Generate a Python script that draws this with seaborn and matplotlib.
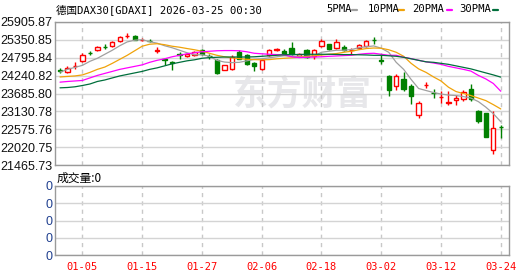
import numpy as np
import pandas as pd
import matplotlib
matplotlib.use("Agg")
import matplotlib.pyplot as plt
import seaborn as sns
from matplotlib.lines import Line2D

# ---------------- data ----------------
dates = ["12-29", "12-30", "01-02",
         "01-05", "01-06", "01-07", "01-08", "01-09",
         "01-12", "01-13", "01-14", "01-15", "01-16",
         "01-19", "01-20", "01-21", "01-22", "01-23",
         "01-26", "01-27", "01-28", "01-29", "01-30",
         "02-02", "02-03", "02-04", "02-05", "02-06",
         "02-09", "02-10", "02-11", "02-12", "02-13",
         "02-16", "02-17", "02-18", "02-19", "02-20",
         "02-23", "02-24", "02-25", "02-26", "02-27",
         "03-02", "03-03", "03-04", "03-05", "03-06",
         "03-09", "03-10", "03-11", "03-12", "03-13",
         "03-16", "03-17", "03-18", "03-19", "03-20",
         "03-23", "03-24"]

opens = [24415, 24350, 24525, 24707, 24955, 25029, 25140, 25176, 25310, 25460,
         25466, 25345, 25328, 25020, 24769, 24663, 24900, 24850, 24894, 25029,
         24858, 24738, 24425, 24456, 24976, 24872, 24632, 24456, 24894, 25045,
         24997, 25101, 24850, 25029, 24850, 25163, 25216, 25101, 25132, 25022,
         25101, 25163, 25348, 24722, 24225, 23910, 24144, 23934, 23018, 23950,
         23700, 23563, 23406, 23487, 23518, 23831, 23152, 23068, 21924, 22660]
highs = [24475, 24538, 24663, 24957, 25007, 25163, 25216, 25320, 25466, 25551,
         25488, 25395, 25373, 25123, 24788, 24680, 24976, 24957, 25007, 25082,
         24925, 24769, 24582, 24872, 25029, 24904, 24663, 24769, 25060, 25101,
         25060, 25288, 24957, 25060, 25082, 25373, 25238, 25373, 25207, 25101,
         25238, 25341, 25445, 24925, 24247, 24285, 24350, 23987, 23465, 24037,
         23831, 23756, 23756, 23653, 23800, 23966, 23160, 23075, 23152, 22715]
lows = [24331, 24331, 24435, 24663, 24872, 24997, 25060, 25145, 25288, 25395,
        25341, 25310, 25270, 24935, 24582, 24403, 24769, 24819, 24850, 24894,
        24747, 24300, 24403, 24425, 24747, 24560, 24372, 24425, 24850, 24997,
        24894, 24894, 24819, 24788, 24769, 25132, 25029, 25060, 24997, 24925,
        25082, 25132, 25238, 24613, 23622, 23780, 23756, 23362, 22912, 23850,
        23550, 23381, 23331, 23340, 23465, 23443, 22755, 22330, 21817, 22318]
closes = [24395, 24488, 24545, 24894, 24935, 25132, 25125, 25288, 25435, 25475,
          25351, 25357, 25315, 25035, 24726, 24632, 24888, 24925, 24976, 24925,
          24845, 24319, 24560, 24819, 24769, 24613, 24529, 24716, 25029, 25057,
          24904, 24925, 24925, 24819, 25029, 25320, 25060, 25270, 25029, 25035,
          25207, 25310, 25335, 24710, 23809, 24235, 23831, 23622, 23393, 23962,
          23688, 23575, 23418, 23559, 23725, 23518, 22818, 22339, 22612, 22645]

ma5 = [24350, 24435, 24497, 24560, 24685, 24779, 24904, 25029, 25169, 25288,
       25341, 25357, 25295, 25248, 25169, 25107, 25029, 24951, 24888, 24888,
       24841, 24716, 24663, 24644, 24654, 24700, 24747, 24763, 24794, 24826,
       24857, 24841, 24841, 24841, 24851, 24966, 24998, 25029, 25029, 25051,
       25107, 25138, 25163, 25091, 24966, 24654, 24435, 24122, 23841, 23778,
       23716, 23669, 23637, 23622, 23590, 23544, 23434, 23262, 23059, 22809]
ma10 = [24200, 24216, 24231, 24263, 24341, 24435, 24507, 24622, 24747, 24872,
        25013, 25154, 25216, 25232, 25201, 25154, 25123, 25082, 25044, 24998,
        24935, 24872, 24826, 24794, 24769, 24747, 24738, 24732, 24738, 24763,
        24779, 24794, 24810, 24832, 24857, 24879, 24904, 24926, 24966, 24998,
        25044, 25082, 25098, 25091, 25044, 24966, 24841, 24622, 24450, 24341,
        24200, 24075, 23881, 23747, 23684, 23622, 23544, 23465, 23340, 23206]
ma20 = [24038, 24059, 24075, 24091, 24169, 24247, 24310, 24372, 24435, 24482,
        24528, 24575, 24654, 24716, 24763, 24826, 24872, 24919, 24951, 24982,
        24998, 25013, 25019, 25019, 25013, 24982, 24935, 24919, 24904, 24894,
        24888, 24826, 24801, 24810, 24819, 24826, 24841, 24851, 24863, 24872,
        24904, 24926, 24935, 24904, 24872, 24872, 24810, 24769, 24716, 24669,
        24632, 24591, 24528, 24482, 24435, 24382, 24247, 24138, 23997, 23756]
ma30 = [23862, 23872, 23894, 23934, 23981, 24059, 24106, 24169, 24231, 24278,
        24325, 24372, 24435, 24482, 24544, 24607, 24654, 24700, 24732, 24779,
        24801, 24810, 24819, 24819, 24819, 24819, 24826, 24841, 24857, 24872,
        24888, 24894, 24898, 24904, 24904, 24904, 24904, 24898, 24894, 24894,
        24888, 24882, 24872, 24872, 24857, 24841, 24810, 24763, 24716, 24669,
        24654, 24622, 24591, 24544, 24497, 24450, 24388, 24325, 24263, 24194]

volumes = [0] * len(dates)

shown_dates = ["01-05", "01-15", "01-27", "02-06", "02-18", "03-02", "03-12", "03-24"]
price_ticks = [25905.87, 25350.85, 24795.84, 24240.82, 23685.80,
               23130.78, 22575.76, 22020.75, 21465.73]
volume_tick_labels = ["0", "0", "0", "0", "0"]
ma_names = ["5PMA", "10PMA", "20PMA", "30PMA"]
title_text = "德国DAX30[GDAXI] 2026-03-25 00:30"
volume_text = "成交量:0"
watermark = "东方财富"

# ---------------- style ----------------
RED = "#ff0000"
GREEN = "#008000"
ma_colors = ["#a0a0a0", "#f0a30a", "#ff00ff", "#006f3c"]
SPINE = "#9a9a9a"
GRID = "#d4d4d4"

sns.set_theme(style="white")
plt.rcParams["font.family"] = ["DejaVu Sans", "Noto Sans CJK SC"]

W, H = 530, 276
fig = plt.figure(figsize=(W / 100, H / 100), dpi=100)
fig.patch.set_facecolor("white")

def fx(px):
    return px / W

def fy(py):
    return 1 - py / H

ax = fig.add_axes([fx(55), fy(165), (509 - 55) / W, (165 - 22) / H])
axv = fig.add_axes([fx(55), fy(255), (509 - 55) / W, (255 - 186) / H])

n = len(dates)
xi = np.arange(n)
o = np.array(opens, float)
c = np.array(closes, float)
hi = np.array(highs, float)
lo = np.array(lows, float)
up = c >= o

# wicks
ax.vlines(xi, lo, hi, colors=[RED if u else GREEN for u in up], lw=1, zorder=2)
# bodies
bottoms = np.minimum(o, c)
heights = np.maximum(np.abs(c - o), 1.0)
ax.bar(xi, heights, bottom=bottoms, width=0.58,
       color=["white" if u else GREEN for u in up],
       edgecolor=[RED if u else GREEN for u in up], linewidth=1, zorder=3)

# moving averages via seaborn
ma_df = pd.DataFrame({"idx": xi, "5PMA": ma5, "10PMA": ma10, "20PMA": ma20, "30PMA": ma30})
long_df = ma_df.melt(id_vars="idx", var_name="ma", value_name="value")
sns.lineplot(data=long_df, x="idx", y="value", hue="ma", hue_order=ma_names,
             palette=dict(zip(ma_names, ma_colors)), legend=False, lw=0.9,
             ax=ax, zorder=4)

# volume panel (all zero)
vol_df = pd.DataFrame({"idx": xi, "vol": volumes})
sns.lineplot(data=vol_df, x="idx", y="vol", ax=axv, lw=0, legend=False)

xmin, xmax = -0.67, 60.1
tick_pos = [dates.index(d) for d in shown_dates]

for a in (ax, axv):
    a.set_xlim(xmin, xmax)
    a.set_facecolor("white")
    a.set_xlabel("")
    a.set_ylabel("")
    for s in a.spines.values():
        s.set_color(SPINE)
        s.set_linewidth(1)
        s.set_visible(True)
    a.set_xticks(tick_pos)
    a.xaxis.grid(True, color="#c8c8c8", lw=1, ls=(0, (3, 3)))
    a.yaxis.grid(True, color=GRID, lw=1)
    a.set_axisbelow(True)
    a.tick_params(length=0)

ax.set_ylim(price_ticks[-1], price_ticks[0])
ax.set_yticks(price_ticks)
ax.set_yticklabels([f"{v:.2f}" for v in price_ticks], fontfamily="Liberation Sans",
                   fontsize=9, color="#111111")
ax.tick_params(axis="y", pad=2)
ax.set_xticklabels([])

axv.set_ylim(0, 4)
axv.set_yticks(range(5))
axv.set_yticklabels(volume_tick_labels, fontfamily="Liberation Sans", fontsize=9,
                    color="#1f3f8f")
axv.tick_params(axis="y", pad=2)
axv.set_xticklabels(shown_dates, fontfamily=["DejaVu Sans Mono"], fontsize=7.5,
                    color=RED)
axv.tick_params(axis="x", pad=5)

# watermark
ax.text((302 - 55) / 454, (165 - 94) / 143, watermark, transform=ax.transAxes,
        ha="center", va="center", fontsize=25, fontweight="bold",
        color="#e7e7ea", family=["Noto Sans CJK SC"], zorder=0.5)

# title and legend
mono = ["DejaVu Sans Mono", "Noto Sans CJK SC"]
fig.text(fx(56), fy(9.5), title_text, ha="left", va="center", fontsize=7.6,
         family=mono, color="black")
leg_x = [326, 368, 412, 459]
dash_x = [(352, 357), (398, 404), (447, 452), (493, 498)]
for name, col, lx, (d0, d1) in zip(ma_names, ma_colors, leg_x, dash_x):
    fig.text(fx(lx), fy(9.5), name, ha="left", va="center", fontsize=7.6,
             family=mono, color="black")
    fig.add_artist(Line2D([fx(d0), fx(d1)], [fy(9.5), fy(9.5)], color=col,
                          lw=1.6, transform=fig.transFigure))

fig.text(fx(57), fy(178), volume_text, ha="left", va="center", fontsize=8.5,
         family=["Noto Sans CJK SC"], color="black")

fig.savefig("out.png", dpi=100, facecolor="white")
